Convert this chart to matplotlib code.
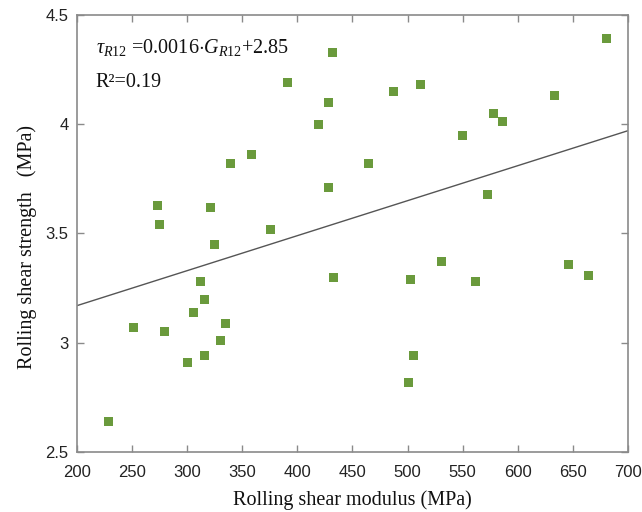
import matplotlib
matplotlib.use("Agg")
import matplotlib.pyplot as plt
import numpy as np

# Rolling shear modulus (MPa) and rolling shear strength (MPa) of the specimens
modulus = [229, 251, 279, 300, 306, 312, 316, 316, 330, 335,
           273, 275, 321, 325, 339, 358, 376, 391, 419, 428, 428,
           432, 465, 487, 512, 550, 578, 586, 573, 633, 681,
           433, 503, 531, 562, 646, 664, 505, 501]
strength = [2.64, 3.07, 3.05, 2.91, 3.14, 3.28, 3.20, 2.94, 3.01, 3.09,
            3.63, 3.54, 3.62, 3.45, 3.82, 3.86, 3.52, 4.19, 4.00, 4.10, 3.71,
            4.33, 3.82, 4.15, 4.18, 3.95, 4.05, 4.01, 3.68, 4.13, 4.39,
            3.30, 3.29, 3.37, 3.28, 3.36, 3.31, 2.94, 2.82]

# Linear fit reported on the chart
slope = 0.0016
intercept = 2.85
r_squared = 0.19

xticks = [200, 250, 300, 350, 400, 450, 500, 550, 600, 650, 700]
yticks = [2.5, 3.0, 3.5, 4.0, 4.5]
ytick_labels = ["2.5", "3", "3.5", "4", "4.5"]

plt.rcParams["mathtext.fontset"] = "custom"
plt.rcParams["mathtext.rm"] = "Liberation Serif"
plt.rcParams["mathtext.it"] = "Liberation Serif:italic"

fig = plt.figure(figsize=(6.42, 5.12), dpi=100)
ax = fig.add_axes([0.12, 0.117, 0.858, 0.854])

spine_color = "#8a8a8a"
for s in ax.spines.values():
    s.set_color(spine_color)
    s.set_linewidth(1.2)

ax.scatter(modulus, strength, marker="s", s=42, color="#6a9a3c",
           edgecolors="none", zorder=3)

xfit = np.array([200, 700])
ax.plot(xfit, slope * xfit + intercept, color="#555555", lw=1.0, zorder=2)

ax.set_xlim(200, 700)
ax.set_ylim(2.5, 4.5)
ax.set_xticks(xticks)
ax.set_yticks(yticks)
ax.set_yticklabels(ytick_labels)
ax.tick_params(direction="in", length=5, width=1, color=spine_color,
               top=True, right=True, labelsize=12, labelcolor="#222222")
ax.tick_params(axis="x", pad=9)
ax.tick_params(axis="y", pad=6)
for lab in ax.get_xticklabels() + ax.get_yticklabels():
    lab.set_family("Liberation Sans")

ax.set_xlabel("Rolling shear modulus (MPa)", family="Liberation Serif",
              fontsize=14.5, color="#111111", labelpad=8)
ax.set_ylabel("Rolling shear strength   (MPa)", family="Liberation Serif",
              fontsize=14.5, color="#111111")
ax.yaxis.set_label_coords(-0.072, 0.47)

ax.text(0.034, 0.925, r"$\tau_{R12}$ =0.0016$\cdot$$G_{R12}$+2.85",
        transform=ax.transAxes, family="Liberation Serif", fontsize=14.5,
        color="#111111", va="center")
ax.text(0.034, 0.845, "R\u00b2=%.2f" % r_squared,
        transform=ax.transAxes, family="Liberation Serif", fontsize=14.5,
        color="#111111", va="center")

fig.savefig("out.png", dpi=100)
